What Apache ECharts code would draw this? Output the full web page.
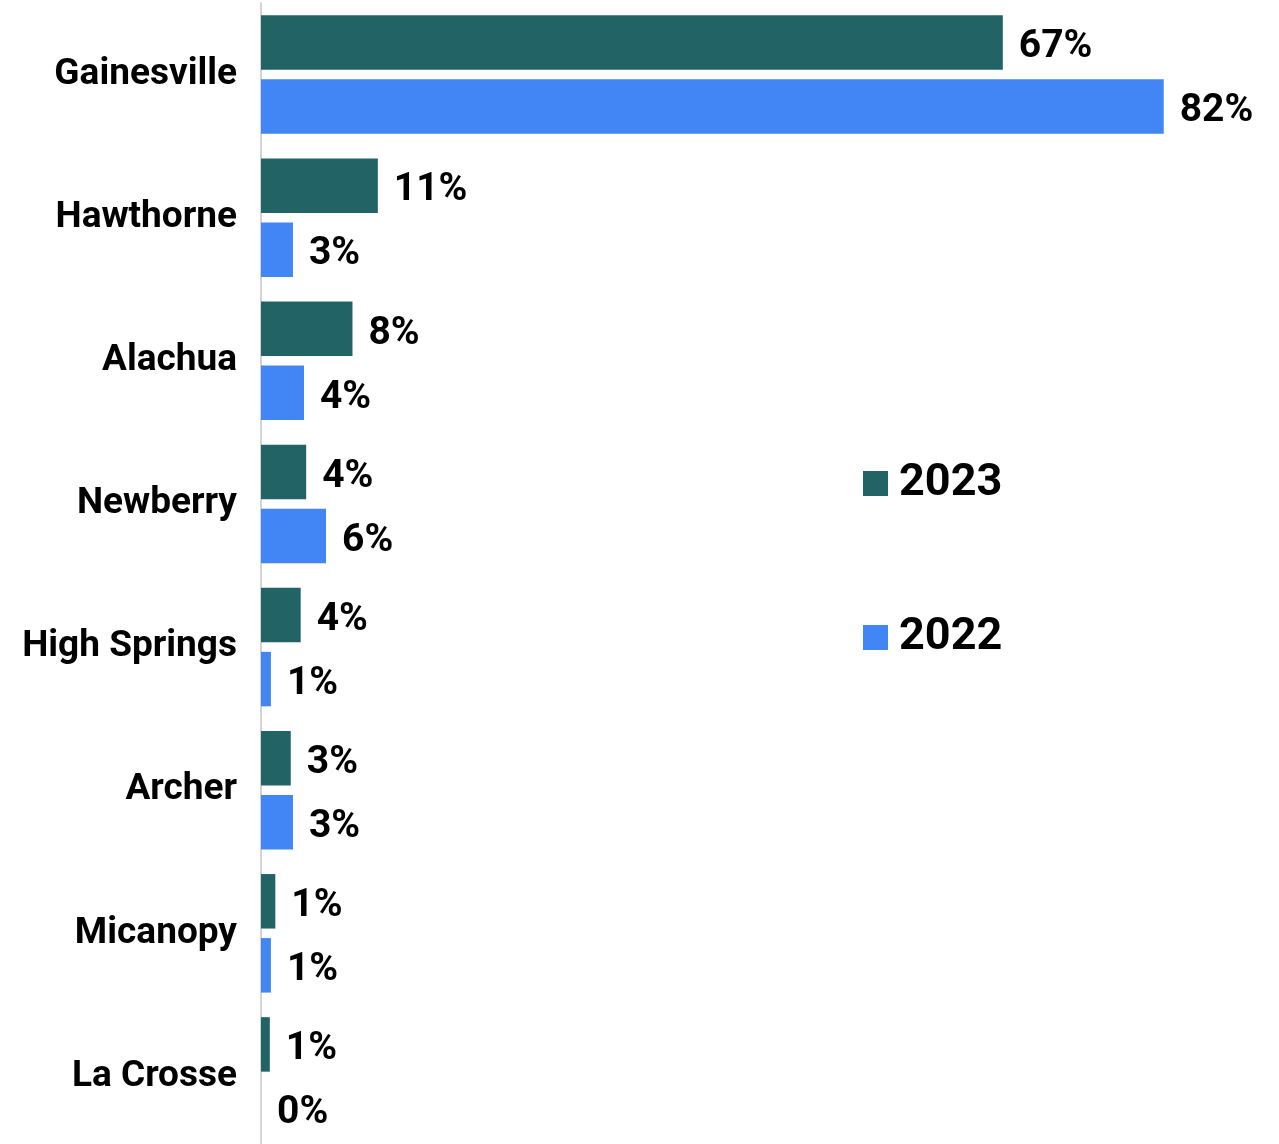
<!DOCTYPE html>
<html>
<head>
<meta charset="utf-8">
<title>Share by city, 2023 vs 2022</title>
<script src="https://cdn.jsdelivr.net/npm/echarts@6/dist/echarts.min.js"></script>
<style>
  html, body { margin: 0; padding: 0; background: #ffffff; }
  #chart { width: 1279px; height: 1144px; }
</style>
</head>
<body>
<div id="chart"></div>
<script>
// Cities, top to bottom
const cities = ['Gainesville', 'Hawthorne', 'Alachua', 'Newberry', 'High Springs', 'Archer', 'Micanopy', 'La Crosse'];
// Share of respondents (%) per city
const share2023 = [67.3, 10.6, 8.3, 4.1, 3.6, 2.7, 1.3, 0.8];
const share2022 = [81.9, 2.9, 3.9, 5.9, 0.9, 2.9, 0.9, 0];
const seriesNames = ['2023', '2022'];
const seriesColors = ['#226366', '#4285f4'];

const FONT = 'Roboto';

const chart = echarts.init(document.getElementById('chart'), null, { renderer: 'canvas' });

const valueLabel = {
  show: true,
  position: 'right',
  distance: 16,
  offset: [0, 5],
  color: '#000000',
  fontFamily: FONT,
  fontWeight: 'bold',
  fontSize: 39,
  formatter: p => Math.round(p.value) + '%'
};

chart.setOption({
  animation: false,
  backgroundColor: '#ffffff',
  // the last category band runs slightly past the bottom edge
  grid: { left: 261, top: 3, width: 992, height: 1145, containLabel: false, outerBoundsMode: 'none' },
  legend: {
    orient: 'vertical',
    left: 858,
    top: 456,
    itemWidth: 25,
    itemHeight: 25,
    itemGap: 109,
    icon: 'rect',
    textStyle: { fontFamily: FONT, fontWeight: 'bold', fontSize: 45, color: '#000000', padding: [0, 0, 0, 6] },
    data: seriesNames
  },
  xAxis: {
    type: 'value',
    min: 0,
    max: 90,
    show: false
  },
  yAxis: {
    type: 'category',
    data: cities,
    inverse: true,
    offset: 1.5,
    axisLine: { show: true, lineStyle: { color: '#d4d4d4', width: 2 } },
    axisTick: { show: false },
    axisLabel: {
      margin: 22.5,
      color: '#000000',
      fontFamily: FONT,
      fontWeight: 'bold',
      fontSize: 37
    }
  },
  series: [
    {
      name: seriesNames[0],
      type: 'bar',
      data: share2023,
      barWidth: 54.5,
      barGap: '17.5%',
      itemStyle: { color: seriesColors[0] },
      label: valueLabel
    },
    {
      name: seriesNames[1],
      type: 'bar',
      data: share2022,
      barWidth: 54.5,
      barGap: '17.5%',
      itemStyle: { color: seriesColors[1] },
      label: valueLabel
    }
  ]
});
</script>
</body>
</html>
